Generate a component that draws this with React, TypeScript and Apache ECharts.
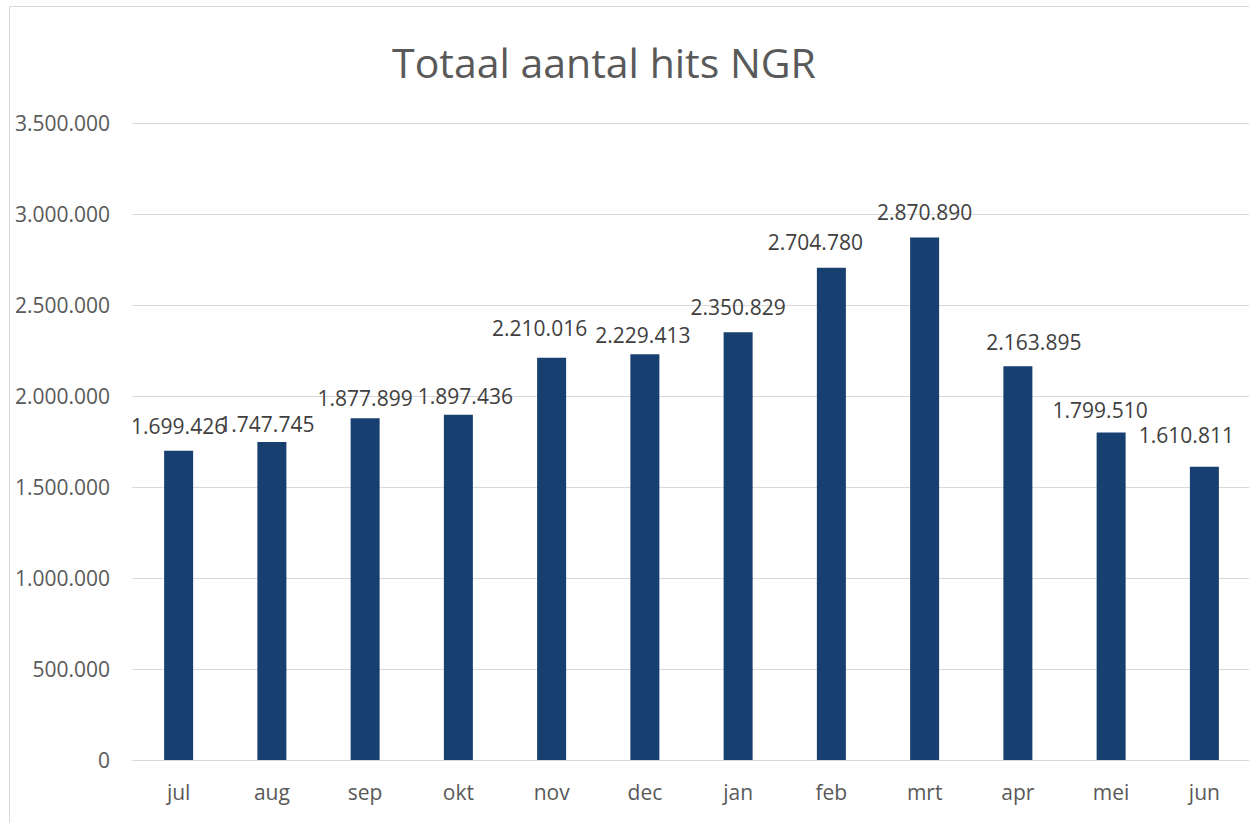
import React, { useEffect, useRef } from "react";
import * as echarts from "echarts";

const categories = ["jul", "aug", "sep", "okt", "nov", "dec", "jan", "feb", "mrt", "apr", "mei", "jun"];
const hits = [1699426, 1747745, 1877899, 1897436, 2210016, 2229413, 2350829, 2704780, 2870890, 2163895, 1799510, 1610811];
const titleText = "Totaal aantal hits NGR";

// manual nudges of the data labels (style only), as in the reference
const labelNudges: [number, number][] = [
  [0, 0], [-5, 7], [0, 4], [7, 6], [-12, -5], [-2, 5],
  [0, -1], [-16, -1], [0, -1], [16, 0], [-11, 2], [-18, -7],
];

const fmt = (v: number) => {
  const s = Math.round(v).toString();
  return s.replace(/\B(?=(\d{3})+(?!\d))/g, ".");
};

export default function App() {
  const ref = useRef<HTMLDivElement>(null);
  useEffect(() => {
    if (!ref.current) return;
    const chart = echarts.init(ref.current, undefined, { renderer: "svg" });
    const font = "'Open Sans', 'Noto Sans', sans-serif";
    chart.setOption({
      animation: false,
      backgroundColor: "#ffffff",
      textStyle: { fontFamily: font },
      title: {
        text: titleText,
        left: 599,
        top: 36,
        textAlign: "center",
        textStyle: { fontFamily: font, fontSize: 41, fontWeight: "normal", color: "#595959" },
      },
      graphic: [
        {
          type: "rect",
          shape: { x: 9.5, y: 6.5, width: 1400, height: 1000 },
          style: { fill: "none", stroke: "#d9d9d9", lineWidth: 1 },
          silent: true,
        },
      ],
      grid: {
        left: 132,
        top: 123,
        width: 1119,
        height: 637,
        containLabel: false,
        outerBoundsMode: "none",
      },
      xAxis: {
        type: "category",
        data: categories,
        axisLine: { show: true, lineStyle: { color: "#d9d9d9", width: 1 } },
        axisTick: { show: false },
        axisLabel: {
          fontFamily: font,
          fontSize: 21,
          color: "#595959",
          margin: 21,
          lineHeight: 21,
        },
      },
      yAxis: {
        type: "value",
        min: 0,
        max: 3500000,
        interval: 500000,
        axisLine: { show: false },
        axisTick: { show: false },
        splitLine: { lineStyle: { color: "#d9d9d9", width: 1 } },
        axisLabel: {
          fontFamily: font,
          fontSize: 21,
          color: "#595959",
          margin: 22,
          formatter: (v: number) => fmt(v),
        },
      },
      series: [
        {
          type: "bar",
          data: hits.map((v, i) => ({ value: v, label: { offset: labelNudges[i] } })),
          barWidth: 29,
          itemStyle: { color: "#173F6F" },
          label: {
            show: true,
            position: "top",
            distance: 14,
            fontFamily: font,
            fontSize: 21,
            lineHeight: 21,
            color: "#404040",
            formatter: (p: any) => fmt(p.value),
          },
        },
      ],
    });
    return () => chart.dispose();
  }, []);
  return (
    <div
      ref={ref}
      style={{ position: "absolute", left: 0, top: 0, width: 1249, height: 823 }}
    />
  );
}
